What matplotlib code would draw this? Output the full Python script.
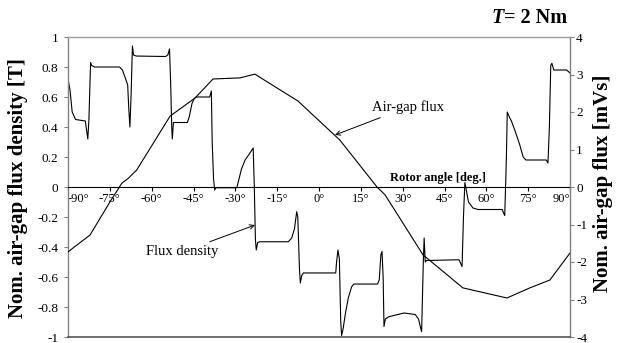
import matplotlib
matplotlib.use("Agg")
import matplotlib.pyplot as plt

plt.rcParams['font.family'] = ['Liberation Serif', 'DejaVu Serif']
plt.rcParams['axes.unicode_minus'] = False

# ---- data ----
x_ticks = [-90, -75, -60, -45, -30, -15, 0, 15, 30, 45, 60, 75, 90]
x_tick_labels = ["-90°", "-75°", "-60°", "-45°", "-30°", "-15°", "0°", "15°", "30°", "45°", "60°", "75°", "90°"]
left_ticks = [-1, -0.8, -0.6, -0.4, -0.2, 0, 0.2, 0.4, 0.6, 0.8, 1]
left_tick_labels = ["-1", "-0.8", "-0.6", "-0.4", "-0.2", "0", "0.2", "0.4", "0.6", "0.8", "1"]
right_ticks = [-4, -3, -2, -1, 0, 1, 2, 3, 4]
right_tick_labels = ["-4", "-3", "-2", "-1", "0", "1", "2", "3", "4"]

# air-gap flux [mVs] vs rotor angle [deg]
flux_angle = [-90, -82.1, -74.9, -70.7, -68.4, -67.2, -65.4, -53.4, -44.5, -38.0,
              -28.3, -23.0, -7.5, 7.5, 20.8, 23.7, 37.3, 51.6, 67.4, 75.6, 82.8, 90]
flux_mvs = [-1.73, -1.28, -0.39, 0.10, 0.23, 0.32, 0.45, 1.89, 2.37, 2.88,
            2.91, 3.01, 2.29, 1.25, 0.0, -0.21, -1.81, -2.69, -2.96, -2.69, -2.48, -1.76]

# flux density [T] vs rotor angle [deg]
b_angle = [-90, -89.3, -88.5, -87.3, -83.8, -83.2, -82.9, -82.5, -81.9, -81.5, -80.5,
           -71.5, -70.5, -69.5, -68.6, -68.2, -67.8, -67.4, -66.9, -66.5, -65.5,
           -55.0, -54.2, -53.6, -53.2, -52.8, -52.6, -52.2, -51.6, -47.2, -46.5,
           -45.5, -44.7, -44.0, -39.2, -38.6, -38.3, -37.8, -37.4, -37.0, -29.5,
           -29.0, -27.8, -26.5, -25.0, -23.6, -23.2, -22.8, -22.5, -22.0, -21.2,
           -11.0, -9.8, -8.8, -8.0, -7.6, -7.0, -6.7, -6.2, -5.6, 6.0,
           6.3, 6.8, 7.3, 7.8, 8.1, 8.6, 9.5, 10.5, 11.7, 12.5,
           21.0, 21.6, 22.2, 22.6, 23.0, 23.3, 23.8, 25.0, 30.5, 34.5,
           35.7, 36.3, 36.8, 37.4, 37.7, 38.1, 38.5, 50.2, 50.8, 51.3,
           51.8, 52.3, 52.8, 53.6, 55.2, 57.0, 65.7, 66.1, 66.6, 67.2,
           67.5, 68.4, 69.0, 70.2, 72.0, 73.2, 74.2, 81.5, 82.1, 82.6,
           83.1, 83.5, 84.2, 88.8, 90.0]
b_tesla = [0.72, 0.65, 0.50, 0.45, 0.44, 0.36, 0.32, 0.45, 0.83, 0.81, 0.80,
           0.80, 0.78, 0.73, 0.68, 0.52, 0.40, 0.60, 0.94, 0.88, 0.873,
           0.87, 0.88, 0.92, 0.70, 0.40, 0.32, 0.43, 0.43, 0.43, 0.47,
           0.56, 0.59, 0.60, 0.60, 0.64, 0.30, 0.05, -0.02, -0.005, -0.005,
           0.03, 0.12, 0.18, 0.22, 0.26, 0.0, -0.35, -0.42, -0.37, -0.365,
           -0.365, -0.34, -0.28, -0.165, -0.2, -0.55, -0.64, -0.59, -0.573, -0.573,
           -0.50, -0.42, -0.48, -0.90, -0.99, -0.95, -0.84, -0.74, -0.665, -0.647,
           -0.647, -0.62, -0.45, -0.43, -0.60, -0.93, -0.88, -0.865, -0.84, -0.85,
           -0.88, -0.93, -0.965, -0.50, -0.34, -0.50, -0.49, -0.485, -0.51, -0.53,
           -0.20, 0.03, -0.02, -0.10, -0.14, -0.15, -0.15, -0.17, -0.19, 0.20,
           0.50, 0.46, 0.44, 0.38, 0.28, 0.20, 0.18, 0.18, 0.16, 0.40,
           0.81, 0.825, 0.78, 0.78, 0.76]

# ---- figure ----
fig = plt.figure(figsize=(6.19, 3.43), dpi=100)
ax = fig.add_axes([68/619, 1-337/343, (570-68)/619, (337-37)/343])
ax2 = ax.twinx()

ax.plot(b_angle, b_tesla, color='black', lw=0.8)
ax2.plot(flux_angle, flux_mvs, color='black', lw=0.8)

ax.set_xlim(-90, 90)
ax.set_ylim(-1, 1)
ax2.set_ylim(-4, 4)

# spines
ax.spines['bottom'].set_position(('data', 0))
ax.spines['bottom'].set_color('black')
ax.spines['bottom'].set_linewidth(0.8)
ax.spines['top'].set_visible(False)
ax.spines['right'].set_visible(False)
ax.spines['left'].set_color('#808080')
ax.spines['left'].set_linewidth(1.0)
ax2.spines['left'].set_visible(False)
ax2.spines['right'].set_color('#808080')
ax2.spines['right'].set_linewidth(1.0)
ax2.spines['top'].set_color('#a0a0a0')
ax2.spines['top'].set_linewidth(1.0)
ax2.spines['bottom'].set_color('#555555')
ax2.spines['bottom'].set_linewidth(1.2)

ax.set_xticks(x_ticks)
ax.set_xticklabels(x_tick_labels)
ax.tick_params(axis='x', direction='out', length=3, width=0.8, pad=1.5,
               labelsize=9, colors='black')
xl = ax.get_xticklabels()
xl[0].set_ha('left')
xl[-1].set_ha('right')

ax.set_yticks(left_ticks)
ax.set_yticklabels(left_tick_labels)
ax.tick_params(axis='y', direction='out', length=3, width=0.8, pad=4,
               labelsize=9.5, color='#808080', labelcolor='black')
ax2.set_yticks(right_ticks)
ax2.set_yticklabels(right_tick_labels)
ax2.tick_params(axis='y', direction='out', length=3, width=0.8, pad=1.5,
                labelsize=9.5, color='#808080', labelcolor='black')

# axis labels
fig.text(18/619, 1-188/343, "Nom. air-gap flux density [T]", rotation=90,
         fontsize=15, fontweight='bold', ha='center', va='center')
fig.text(603/619, 1-183/343, "Nom. air-gap flux [mVs]", rotation=90,
         fontsize=15, fontweight='bold', ha='center', va='center')

# "T= 2 Nm" with italic T
t_rest = fig.text(567/619, 1-18/343, "= 2 Nm", fontsize=14.5,
                  fontweight='bold', ha='right', va='center')
fig.canvas.draw()
bb = t_rest.get_window_extent()
fig.text(bb.x0 / 619, 1-18/343, "T", fontsize=14.5, fontweight='bold',
         fontstyle='italic', ha='right', va='center')

fig.text(438/619, 1-178/343, "Rotor angle [deg.]",
         fontsize=9, fontweight='bold', ha='center', va='center')

# annotations (figure pixel coords)
ax.annotate("Air-gap flux", xy=(335/619, 1-135/343), xycoords='figure fraction',
            xytext=(372/619, 1-107/343), textcoords='figure fraction',
            fontsize=10.5, ha='left', va='center',
            arrowprops=dict(arrowstyle='->', color='black', lw=0.7,
                            shrinkA=2, shrinkB=0, mutation_scale=8))
ax.annotate("Flux density", xy=(255/619, 1-225/343), xycoords='figure fraction',
            xytext=(182/619, 1-252/343), textcoords='figure fraction',
            fontsize=10.5, ha='center', va='center',
            arrowprops=dict(arrowstyle='->', color='black', lw=0.7,
                            shrinkA=2, shrinkB=0, mutation_scale=8))

fig.savefig("out.png", dpi=100)
